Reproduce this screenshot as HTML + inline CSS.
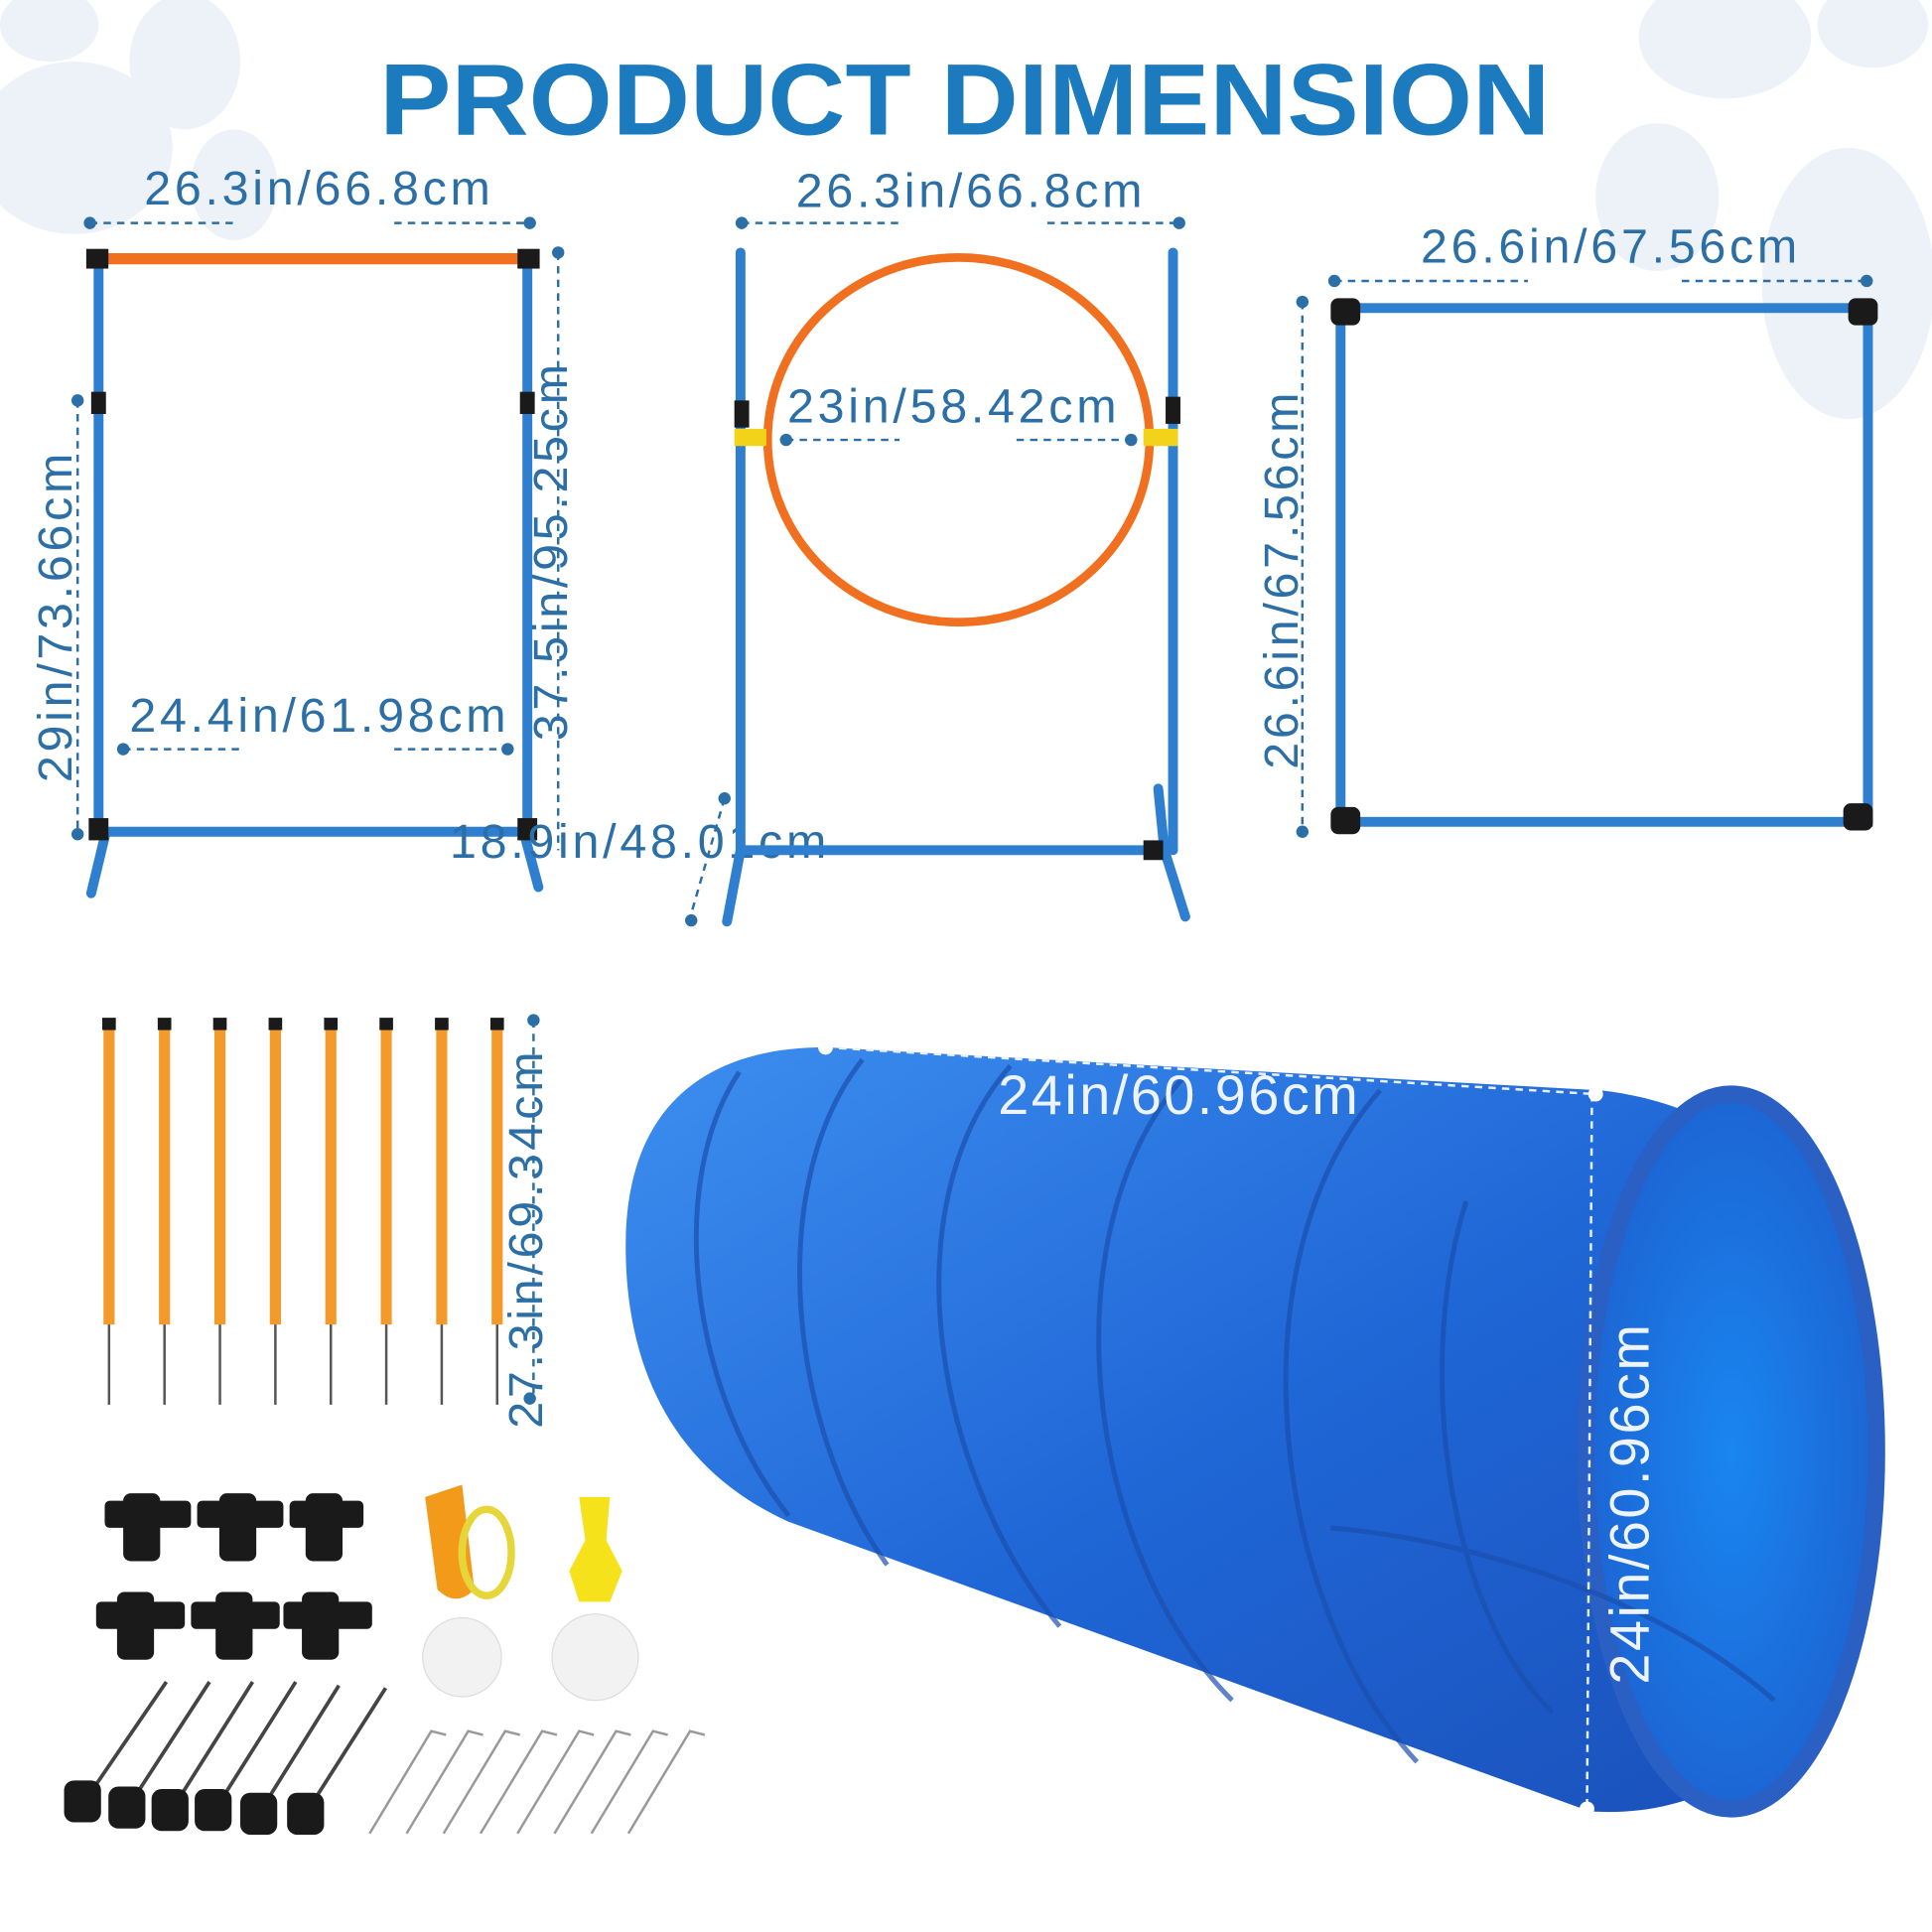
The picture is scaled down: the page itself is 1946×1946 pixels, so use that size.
<!DOCTYPE html>
<html><head><meta charset="utf-8"><style>
html,body{margin:0;padding:0;background:#fff}
svg{display:block}
.d{font-family:"Liberation Sans",sans-serif;font-size:39px;fill:#2b6fa6;letter-spacing:3px}
.dl{stroke:#2b6fa6;stroke-width:2;stroke-dasharray:6 5;fill:none}
.pt{fill:#2b6fa6}
.pole{stroke:#2f7fd0;stroke-width:8;stroke-linecap:round}
.blk{fill:#1a1a1a}
</style></head><body>
<svg width="1946" height="1946" viewBox="0 0 1568 1568" xmlns="http://www.w3.org/2000/svg">
<defs>
<linearGradient id="tg" x1="0" y1="0" x2="1" y2="1">
<stop offset="0" stop-color="#3d8ff0"/><stop offset="0.5" stop-color="#1f66d6"/><stop offset="1" stop-color="#1a4fb8"/></linearGradient>
<radialGradient id="og" cx="0.5" cy="0.5" r="0.6"><stop offset="0" stop-color="#1a86f0"/><stop offset="1" stop-color="#1c5fcf"/></radialGradient>
</defs>
<rect width="1568" height="1568" fill="#fff"/>
<g fill="#edf2f8">
<ellipse cx="60" cy="120" rx="80" ry="70"/><ellipse cx="150" cy="50" rx="45" ry="55"/><ellipse cx="190" cy="150" rx="35" ry="45"/><ellipse cx="40" cy="20" rx="40" ry="30"/>
<ellipse cx="1400" cy="30" rx="70" ry="50"/><ellipse cx="1500" cy="230" rx="70" ry="110"/><ellipse cx="1345" cy="160" rx="50" ry="60"/><ellipse cx="1520" cy="20" rx="45" ry="35"/>
</g>
<text x="783" y="109" text-anchor="middle" font-family="Liberation Sans,sans-serif" font-weight="bold" font-size="82" fill="#1b7bbe" textLength="950" lengthAdjust="spacingAndGlyphs">PRODUCT DIMENSION</text>

<line class="pole" x1="80" y1="208" x2="80" y2="675"/><line class="pole" x1="428" y1="208" x2="428" y2="675"/>
<line class="pole" x1="85" y1="675" x2="425" y2="675"/>
<line class="pole" x1="86" y1="675" x2="74" y2="725"/><line class="pole" x1="425" y1="675" x2="437" y2="720"/>
<line x1="80" y1="210" x2="428" y2="210" stroke="#f07020" stroke-width="9"/>
<rect class="blk" x="70" y="202" width="18" height="16"/><rect class="blk" x="420" y="202" width="18" height="16"/>
<rect class="blk" x="74" y="318" width="12" height="18"/><rect class="blk" x="422" y="318" width="12" height="18"/>
<rect class="blk" x="72" y="664" width="16" height="18"/><rect class="blk" x="420" y="664" width="16" height="18"/>
<line class="dl" x1="73" y1="181" x2="190" y2="181"/><line class="dl" x1="320" y1="181" x2="430" y2="181"/>
<circle class="pt" cx="73" cy="181" r="5"/><circle class="pt" cx="430" cy="181" r="5"/>
<text class="d" x="117" y="166">26.3in/66.8cm</text>
<line class="dl" x1="63" y1="325" x2="63" y2="677"/><circle class="pt" cx="63" cy="325" r="5"/><circle class="pt" cx="63" cy="677" r="5"/>
<text class="d" transform="translate(58,500) rotate(-90)" text-anchor="middle">29in/73.66cm</text>
<line class="dl" x1="453" y1="205" x2="453" y2="690"/><circle class="pt" cx="453" cy="205" r="5"/>
<text class="d" transform="translate(460,447) rotate(-90)" text-anchor="middle">37.5in/95.25cm</text>
<line class="dl" x1="100" y1="608" x2="195" y2="608"/><line class="dl" x1="320" y1="608" x2="412" y2="608"/>
<circle class="pt" cx="100" cy="608" r="5"/><circle class="pt" cx="412" cy="608" r="5"/>
<text class="d" x="105" y="594">24.4in/61.98cm</text>
<text class="d" x="365" y="696">18.9in/48.01cm</text>
<line class="dl" x1="588" y1="648" x2="560" y2="745"/><circle class="pt" cx="588" cy="648" r="5"/><circle class="pt" cx="561" cy="747" r="5"/>

<line class="pole" x1="601" y1="205" x2="601" y2="690"/><line class="pole" x1="952" y1="205" x2="952" y2="690"/>
<line class="pole" x1="605" y1="690" x2="945" y2="690"/>
<line class="pole" x1="601" y1="690" x2="590" y2="748"/><line class="pole" x1="945" y1="690" x2="962" y2="744"/>
<line class="pole" x1="940" y1="640" x2="945" y2="690"/>
<ellipse cx="778" cy="357" rx="155" ry="148" fill="none" stroke="#f07020" stroke-width="7"/>
<rect class="blk" x="596" y="325" width="12" height="22"/><rect class="blk" x="946" y="322" width="12" height="22"/>
<rect x="596" y="348" width="26" height="14" fill="#f3d21a"/><rect x="928" y="348" width="28" height="14" fill="#f3d21a"/>
<rect class="blk" x="928" y="682" width="16" height="16"/>
<line class="dl" x1="602" y1="181" x2="730" y2="181"/><line class="dl" x1="850" y1="181" x2="957" y2="181"/>
<circle class="pt" cx="602" cy="181" r="5"/><circle class="pt" cx="957" cy="181" r="5"/>
<text class="d" x="646" y="168">26.3in/66.8cm</text>
<line class="dl" x1="638" y1="357" x2="730" y2="357"/><line class="dl" x1="825" y1="357" x2="918" y2="357"/>
<circle class="pt" cx="638" cy="357" r="5"/><circle class="pt" cx="918" cy="357" r="5"/>
<text class="d" x="639" y="343">23in/58.42cm</text>

<rect x="1088" y="250" width="428" height="417" fill="none" stroke="#2f7fd0" stroke-width="8"/>
<rect class="blk" x="1080" y="242" width="24" height="22" rx="6"/><rect class="blk" x="1500" y="242" width="24" height="22" rx="6"/>
<rect class="blk" x="1080" y="655" width="24" height="22" rx="6"/><rect class="blk" x="1496" y="652" width="24" height="22" rx="6"/>
<line class="dl" x1="1083" y1="228" x2="1240" y2="228"/><line class="dl" x1="1365" y1="228" x2="1515" y2="228"/>
<circle class="pt" cx="1083" cy="228" r="5"/><circle class="pt" cx="1515" cy="228" r="5"/>
<text class="d" x="1153" y="213">26.6in/67.56cm</text>
<line class="dl" x1="1057" y1="245" x2="1057" y2="675"/><circle class="pt" cx="1057" cy="245" r="5"/><circle class="pt" cx="1057" cy="675" r="5"/>
<text class="d" transform="translate(1053,470) rotate(-90)" text-anchor="middle">26.6in/67.56cm</text>

<g>
<g id="st"><rect x="84" y="830" width="9" height="245" fill="#f39a2a"/><rect x="83" y="826" width="11" height="10" class="blk"/><line x1="88.5" y1="1075" x2="88.5" y2="1140" stroke="#555" stroke-width="2"/></g>
<use href="#st" x="45"/><use href="#st" x="90"/><use href="#st" x="135"/><use href="#st" x="180"/><use href="#st" x="225"/><use href="#st" x="270"/><use href="#st" x="315"/>
</g>
<line class="dl" x1="433" y1="828" x2="433" y2="1135"/><circle class="pt" cx="433" cy="828" r="5"/><circle class="pt" cx="430" cy="1135" r="5"/>
<text class="d" transform="translate(440,1005) rotate(-90)" text-anchor="middle">27.3in/69.34cm</text>

<path d="M670 850 L1300 885 C1430 900 1530 1000 1528 1180 C1525 1360 1430 1480 1290 1470 L640 1235 C540 1190 505 1100 508 1000 C512 900 570 850 670 850 Z" fill="url(#tg)"/>
<ellipse cx="1405" cy="1178" rx="118" ry="290" fill="url(#og)" stroke="#2a5fc4" stroke-width="14"/>
<g fill="none" stroke="#1b4fae" stroke-width="4" opacity="0.7">
<path d="M600 870 C540 960 560 1130 640 1230"/>
<path d="M700 860 C620 960 640 1160 720 1270"/>
<path d="M820 865 C720 980 760 1200 860 1320"/>
<path d="M960 875 C850 1000 880 1260 1000 1380"/>
<path d="M1120 885 C1000 1020 1030 1300 1150 1430"/>
<path d="M1190 975 C1150 1100 1170 1300 1260 1390"/>
<path d="M1080 1240 C1200 1250 1350 1300 1440 1380"/>
</g>
<line x1="670" y1="850" x2="1295" y2="888" stroke="#e8f0ff" stroke-width="2" stroke-dasharray="6 5"/>
<line x1="1292" y1="888" x2="1288" y2="1468" stroke="#e8f0ff" stroke-width="2" stroke-dasharray="6 5"/>
<circle cx="670" cy="850" r="6" fill="#fff"/><circle cx="1295" cy="888" r="6" fill="#fff"/><circle cx="1288" cy="1468" r="6" fill="#fff"/>
<text x="810" y="904" font-family="Liberation Sans,sans-serif" font-size="45" letter-spacing="2" fill="#eef4ff">24in/60.96cm</text>
<text transform="translate(1338,1220) rotate(-90)" text-anchor="middle" font-family="Liberation Sans,sans-serif" font-size="45" letter-spacing="2" fill="#eef4ff">24in/60.96cm</text>

<g class="blk">
<rect x="85" y="1218" width="70" height="22" rx="4"/><rect x="100" y="1212" width="30" height="55" rx="6"/>
<rect x="160" y="1218" width="70" height="22" rx="4"/><rect x="178" y="1212" width="30" height="55" rx="6"/>
<rect x="235" y="1218" width="60" height="22" rx="4"/><rect x="248" y="1212" width="30" height="55" rx="6"/>
<rect x="78" y="1300" width="72" height="22" rx="4"/><rect x="95" y="1292" width="30" height="55" rx="6"/>
<rect x="155" y="1300" width="72" height="22" rx="4"/><rect x="175" y="1292" width="30" height="55" rx="6"/>
<rect x="230" y="1300" width="72" height="22" rx="4"/><rect x="245" y="1292" width="30" height="55" rx="6"/>
</g>
<path d="M345 1215 L375 1205 L385 1290 Q370 1305 355 1290 Z" fill="#f39a1a"/>
<ellipse cx="395" cy="1260" rx="20" ry="35" fill="none" stroke="#e6d63a" stroke-width="6"/>
<path d="M470 1215 L495 1215 L492 1250 L505 1275 L495 1300 L470 1300 L462 1275 L475 1250 Z" fill="#f5e21a"/>
<circle cx="375" cy="1345" r="32" fill="#f2f2f2" stroke="#ddd"/><circle cx="483" cy="1345" r="35" fill="#f2f2f2" stroke="#ddd"/>
<g stroke="#444" stroke-width="3">
<line x1="70" y1="1460" x2="135" y2="1365"/><line x1="105" y1="1465" x2="170" y2="1365"/><line x1="140" y1="1468" x2="205" y2="1365"/>
<line x1="175" y1="1468" x2="240" y2="1365"/><line x1="210" y1="1472" x2="275" y2="1368"/><line x1="248" y1="1472" x2="313" y2="1370"/>
</g>
<g class="blk">
<rect x="52" y="1445" width="30" height="34" rx="8"/><rect x="88" y="1450" width="30" height="34" rx="8"/><rect x="123" y="1452" width="30" height="34" rx="8"/>
<rect x="158" y="1452" width="30" height="34" rx="8"/><rect x="195" y="1455" width="30" height="34" rx="8"/><rect x="233" y="1455" width="30" height="34" rx="8"/>
</g>
<g stroke="#999" stroke-width="2" fill="none">
<path d="M300 1488 L350 1405 L362 1408"/><path d="M330 1488 L380 1405 L392 1408"/><path d="M360 1488 L410 1405 L422 1408"/>
<path d="M390 1488 L440 1405 L452 1408"/><path d="M420 1488 L470 1405 L482 1408"/><path d="M450 1488 L500 1405 L512 1408"/>
<path d="M480 1488 L530 1405 L542 1408"/><path d="M510 1488 L560 1405 L572 1408"/>
</g>
</svg>
</body></html>
